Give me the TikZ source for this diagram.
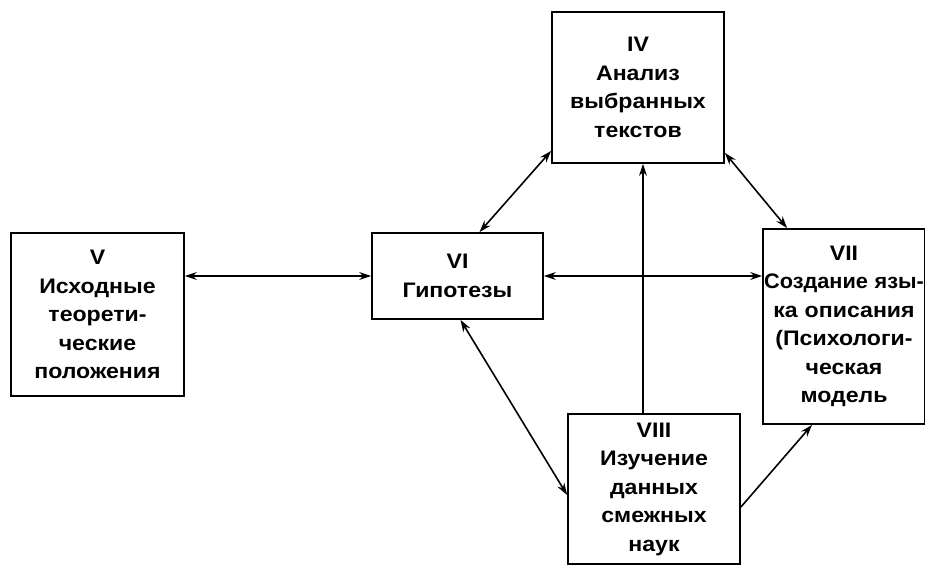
\documentclass[tikz,border=0pt]{standalone}
\usepackage{fontspec}
\setmainfont{Liberation Sans}[FakeStretch=1.1]
\usetikzlibrary{arrows.meta}

\begin{document}
\begin{tikzpicture}[
  x=1pt, y=-1pt,
  blok/.style={rectangle, draw, line width=1.8pt, align=center, inner sep=0pt,
    font=\fontsize{21}{28.5}\selectfont\bfseries},
  svyaz/.style={line width=1.6pt},
  >={Stealth[length=12pt, width=8pt]}
]
\useasboundingbox (0,0) rectangle (925,565);
\node[blok, minimum width=173pt, minimum height=163pt] (v) at (97.5,314.5) {V\\Исходные\\теорети-\\ческие\\положения};
\node[blok, minimum width=171pt, minimum height=86pt] (vi) at (457.5,276) {VI\\Гипотезы};
\node[blok, minimum width=172pt, minimum height=151pt] (iv) at (638,87.5) {IV\\Анализ\\выбранных\\текстов};
\node[blok, text width=162pt, minimum height=195pt] (vii) at (844,326.5) {VII\\\scalebox{0.94}[1]{Создание язы-}\\ка описания\\(Психологи-\\ческая\\модель};
\node[blok, minimum width=172pt, minimum height=150pt] (viii) at (654,489) {VIII\\Изучение\\данных\\смежных\\наук};

\draw[svyaz, <->] (v.east |- vi.west) -- (vi.west);
\draw[svyaz, <->] (vi.east) -- (vii.west |- vi.east);
\draw[svyaz, <->] ([xshift=22pt]vi.north) -- ([yshift=13pt]iv.south west);
\draw[svyaz, <->] ([yshift=11pt]iv.south east) -- ([xshift=25pt]vii.north west);
\draw[svyaz, <->] ([xshift=3pt]vi.south) -- ([yshift=-6pt]viii.west);
\draw[svyaz, ->] ([xshift=-11pt]viii.north) -- ([xshift=-11pt]viii.north |- iv.south);
\draw[svyaz, ->] ([yshift=-18pt]viii.east) -- ([xshift=-32pt]vii.south);
\end{tikzpicture}
\end{document}
